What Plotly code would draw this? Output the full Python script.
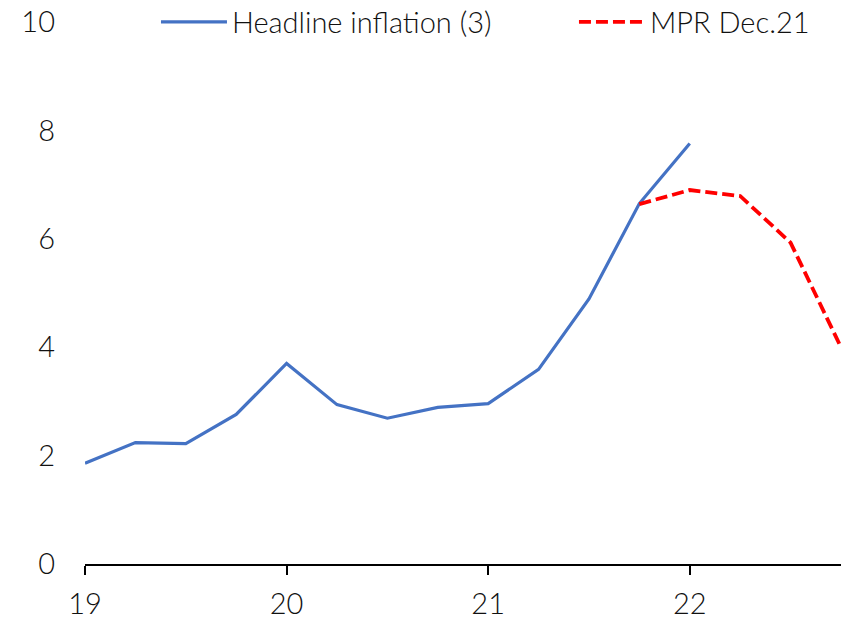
import plotly.graph_objects as go

# Data
quarters_headline = [19.0, 19.25, 19.5, 19.75, 20.0, 20.25, 20.5, 20.75, 21.0, 21.25, 21.5, 21.75, 22.0]
headline_inflation = [1.86, 2.24, 2.22, 2.76, 3.70, 2.94, 2.69, 2.89, 2.96, 3.59, 4.89, 6.65, 7.76]

quarters_mpr = [21.75, 22.0, 22.25, 22.5, 22.75]
mpr_dec21 = [6.64, 6.90, 6.79, 5.93, 4.0]

x_ticks = [19, 20, 21, 22]
x_tick_labels = ["19", "20", "21", "22"]
y_ticks = [0, 2, 4, 6, 8, 10]

FONT = "Lato, Noto Sans, sans-serif"
FS = 29
TXT = "#111111"

fig = go.Figure()
fig.add_trace(go.Scatter(
    x=quarters_headline, y=headline_inflation, mode="lines",
    name="Headline inflation (3)",
    line=dict(color="#4472C4", width=3.2),
    cliponaxis=False, legend="legend",
))
fig.add_trace(go.Scatter(
    x=quarters_mpr, y=mpr_dec21, mode="lines",
    name="MPR Dec.21",
    line=dict(color="#FF0000", width=3.8, dash="12px,5px"),
    cliponaxis=False, legend="legend2",
))

legend_common = dict(
    orientation="h", y=1.0, yanchor="middle", xanchor="left",
    font=dict(family=FONT, size=FS, color=TXT, weight=300),
    bgcolor="rgba(0,0,0,0)", itemwidth=66,
)

fig.update_layout(
    width=841, height=611,
    paper_bgcolor="white", plot_bgcolor="white",
    margin=dict(l=77, r=0, t=14, b=55, pad=0, autoexpand=False),
    font=dict(family=FONT, size=FS, color=TXT, weight=300),
    showlegend=True,
    legend=dict(x=0.0929, **legend_common),
    legend2=dict(x=0.640, **legend_common),
)
fig.update_xaxes(
    range=[19, 22.79], tickvals=x_ticks, ticktext=x_tick_labels,
    showgrid=False, zeroline=False, showline=True, linecolor="black", linewidth=2,
    ticks="outside", ticklen=9, tickwidth=1.5, tickcolor="black",
    tickfont=dict(family=FONT, size=FS, color=TXT, weight=300),
    ticklabelstandoff=4, ticklabeloverflow="allow",
    automargin=False,
)
fig.update_yaxes(
    range=[0, 10], tickvals=y_ticks,
    showgrid=False, zeroline=False, showline=False,
    ticks="", ticklabelstandoff=29, ticklabeloverflow="allow",
    tickfont=dict(family=FONT, size=FS, color=TXT, weight=300),
    automargin=False,
)

fig.write_html("out.html")
